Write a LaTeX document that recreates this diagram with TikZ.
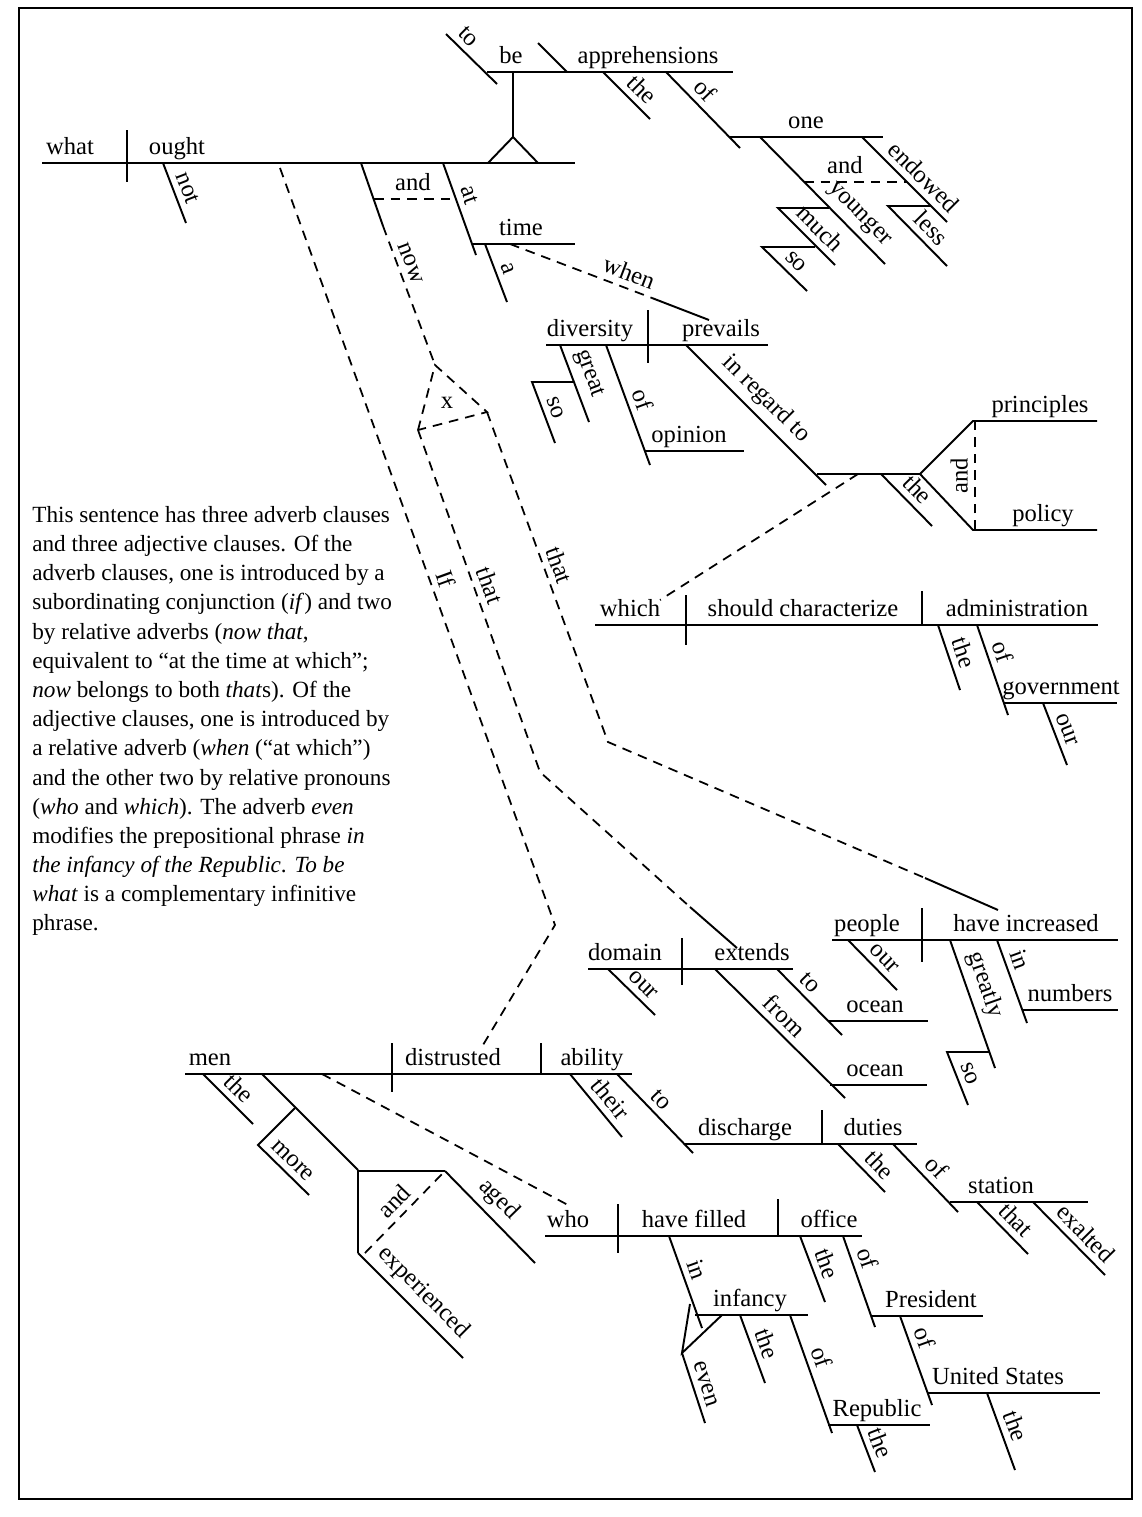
\documentclass[tikz,border=0pt]{standalone}
\usepackage{fontspec}
\setmainfont{Liberation Serif}
\usetikzlibrary{calc}

\begin{document}
\begin{tikzpicture}[
    x=0.2mm, y=-0.2mm,
    font=\fontsize{14}{16}\selectfont,
    wl/.style={line width=1.1pt},
    dl/.style={line width=1pt, dash pattern=on 5.5pt off 4pt},
    word/.style={anchor=base, inner sep=0pt},
    slw/.style={sloped, above, inner sep=3.5pt},
    note/.style={anchor=north west, inner sep=0pt, align=left,
      font=\fontsize{13.2}{16.6}\selectfont},
  ]
  \useasboundingbox (0,0) rectangle (1141,1517);
  \draw[line width=1.6pt] (19,8) rectangle (1132,1499);

  % main clause
  \draw[wl] (42,163) -- (575,163);
  \draw[wl] (127,130) -- (127,182);
  \node[word] (what)  at (70,154)  {what};
  \node[word] (ought) at (177,154) {ought};
  \draw[wl] (163,163) -- (186,223) node[slw, midway] (not) {not};

  % infinitive on its pedestal
  \draw[wl] (487,72) -- (733,72);
  \draw[wl] (446,34) -- (497,84) node[slw, pos=.25] (to1) {to};
  \draw[wl] (538,43) -- (567,72);
  \draw[wl] (513,72) -- (513,137);
  \draw[wl] (488,163) -- (513,137) -- (538,163);
  \node[word] (be)   at (511,63) {be};
  \node[word] (appr) at (648,63) {apprehensions};
  \draw[wl] (603,72) -- (650,119) node[slw, pos=.6] (the1) {the};
  \draw[wl] (666,72) -- (740,148) node[slw, pos=.38] (of1) {of};
  \draw[wl] (730,137) -- (883,137);
  \node[word] (one) at (806,128) {one};
  \draw[wl] (760,137) -- (885,264) node[slw, pos=.7] (younger) {younger};
  \draw[wl] (862,137) -- (947,222) node[slw, pos=.6] (endowed) {endowed};
  \draw[dl] (804,182) -- (907,182);
  \node[word] (and1) at (845,173) {and};
  \draw[wl] (829,208) -- (778,208) -- (835,265) node[slw, pos=.55] (much) {much};
  \draw[wl] (815,247) -- (762,247) -- (807,291) node[slw, pos=.55] (so1) {so};
  \draw[wl] (931,206) -- (888,206) -- (947,266) node[slw, pos=.55] (less) {less};

  % now ... and at time
  \coordinate (xa) at (435,365);
  \coordinate (xb) at (418,430);
  \coordinate (xc) at (487,412);
  \draw[wl] (361,163) -- (383,226);
  \draw[dl] (383,226) -- (xa) node[slw, pos=.3] (now) {now};
  \draw[dl] (374,199) -- (456,199);
  \node[word] (and2) at (413,190) {and};
  \draw[wl] (443,163) -- (476,255) node[slw, pos=.4] (at) {at};
  \draw[wl] (472,244) -- (575,244);
  \node[word] (time) at (521,235) {time};
  \draw[wl] (485,244) -- (507,302) node[slw, midway] (a) {a};
  \draw[dl] (510,244) -- (652,298) node[slw, pos=.8] (when) {when};
  \draw[wl] (652,298) -- (709,320);

  % clause connectors
  \draw[dl] (280,168) -- (555,925) node[slw, pos=.55] (if) {If} -- (483,1045);
  \draw[dl] (xb) -- (xa) -- (xc) -- cycle;
  \node (x) at (447,403) {x};
  \draw[dl] (xb) -- (540,772) node[slw, pos=.47] (that1) {that} -- (690,907);
  \draw[wl] (690,907) -- (737,948);
  \draw[dl] (xc) -- (608,742) node[slw, pos=.48] (that2) {that} -- (925,878);
  \draw[wl] (925,878) -- (998,910);

  % diversity prevails
  \draw[wl] (546,345) -- (768,345);
  \draw[wl] (648,310) -- (648,363);
  \node[word] (diversity) at (590,336) {diversity};
  \node[word] (prevails)  at (721,336) {prevails};
  \draw[wl] (560,345) -- (589,422) node[slw, pos=.45] (great) {great};
  \draw[wl] (574,382) -- (532,382) -- (555,443) node[slw, midway] (so2) {so};
  \draw[wl] (606,345) -- (650,465) node[slw, pos=.5] (of2) {of};
  \draw[wl] (645,451) -- (744,451);
  \node[word] (opinion) at (689,442) {opinion};
  \draw[wl] (686,345) -- (826,485) node[slw, pos=.48] (inregard) {in regard to};
  \draw[wl] (817,474) -- (920,474);
  \draw[wl] (1097,421) -- (973,421) -- (920,474) -- (973,530) -- (1097,530);
  \draw[dl] (975,530) -- (975,421) node[slw, midway] (and3) {and};
  \node[word] (principles) at (1040,412) {principles};
  \node[word] (policy)     at (1043,521) {policy};
  \draw[wl] (881,474) -- (932,526) node[slw, midway] (the2) {the};
  \draw[dl] (858,474) -- (660,600);

  % which should characterize
  \draw[wl] (595,625) -- (1098,625);
  \draw[wl] (686,595) -- (686,645);
  \draw[wl] (922,591) -- (922,625);
  \node[word] (which)   at (630,616)  {which};
  \node[word] (shouldc) at (803,616)  {should characterize};
  \node[word] (admin)   at (1017,616) {administration};
  \draw[wl] (938,625) -- (960,690) node[slw, midway] (the3) {the};
  \draw[wl] (977,625) -- (1008,715) node[slw, pos=.35] (of3) {of};
  \draw[wl] (1003,703) -- (1117,703);
  \node[word] (govt) at (1061,694) {government};
  \draw[wl] (1043,703) -- (1067,765) node[slw, midway] (our1) {our};

  % people have increased
  \draw[wl] (832,940) -- (1118,940);
  \draw[wl] (922,908) -- (922,962);
  \node[word] (people)  at (867,931)  {people};
  \node[word] (haveinc) at (1026,931) {have increased};
  \draw[wl] (848,940) -- (897,990) node[slw, pos=.55] (our2) {our};
  \draw[wl] (950,940) -- (995,1068) node[slw, pos=.4] (greatly) {greatly};
  \draw[wl] (989,1052) -- (947,1052) -- (968,1105) node[slw, midway] (so3) {so};
  \draw[wl] (997,940) -- (1027,1023) node[slw, pos=.3] (in1) {in};
  \draw[wl] (1022,1010) -- (1118,1010);
  \node[word] (numbers) at (1070,1001) {numbers};

  % domain extends
  \draw[wl] (588,969) -- (793,969);
  \draw[wl] (682,938) -- (682,985);
  \node[word] (domain)  at (625,960) {domain};
  \node[word] (extends) at (752,960) {extends};
  \draw[wl] (608,969) -- (655,1015) node[slw, pos=.55] (our3) {our};
  \draw[wl] (777,969) -- (842,1035) node[slw, pos=.35] (to2) {to};
  \draw[wl] (828,1021) -- (928,1021);
  \node[word] (ocean1) at (875,1012) {ocean};
  \draw[wl] (715,969) -- (845,1098) node[slw, pos=.45] (from) {from};
  \draw[wl] (830,1085) -- (927,1085);
  \node[word] (ocean2) at (875,1076) {ocean};

  % men distrusted ability
  \draw[wl] (185,1074) -- (632,1074);
  \draw[wl] (392,1043) -- (392,1092);
  \draw[wl] (541,1043) -- (541,1074);
  \node[word] (men)        at (210,1065) {men};
  \node[word] (distrusted) at (453,1065) {distrusted};
  \node[word] (ability)    at (592,1065) {ability};
  \draw[wl] (203,1074) -- (253,1124) node[slw, midway] (the4) {the};
  \draw[wl] (262,1074) -- (358,1170);
  \draw[wl] (295,1108) -- (258,1145) -- (309,1195) node[slw, midway] (more) {more};
  \draw[wl] (445,1171) -- (358,1171) -- (358,1253);
  \draw[wl] (445,1171) -- (535,1263) node[slw, pos=.45] (aged) {aged};
  \draw[wl] (358,1253) -- (463,1358) node[slw, midway] (exper) {experienced};
  \draw[dl] (365,1253) -- (445,1171) node[slw, midway] (and4) {and};
  \draw[dl] (322,1074) -- (568,1205);
  \draw[wl] (570,1074) -- (622,1137) node[slw, pos=.55] (their) {their};
  \draw[wl] (617,1074) -- (693,1153) node[slw, pos=.45] (to3) {to};
  \draw[wl] (685,1144) -- (917,1144);
  \draw[wl] (822,1110) -- (822,1144);
  \node[word] (discharge) at (745,1135) {discharge};
  \node[word] (duties)    at (873,1135) {duties};
  \draw[wl] (838,1144) -- (885,1192) node[slw, pos=.65] (the5) {the};
  \draw[wl] (893,1144) -- (958,1212) node[slw, pos=.5] (of4) {of};
  \draw[wl] (950,1202) -- (1088,1202);
  \node[word] (station) at (1001,1193) {station};
  \draw[wl] (977,1202) -- (1028,1254) node[slw, pos=.55] (that3) {that};
  \draw[wl] (1033,1202) -- (1105,1275) node[slw, pos=.58] (exalted) {exalted};

  % who have filled office
  \draw[wl] (545,1236) -- (862,1236);
  \draw[wl] (618,1204) -- (618,1253);
  \draw[wl] (778,1199) -- (778,1236);
  \node[word] (who)        at (568,1227) {who};
  \node[word] (havefilled) at (694,1227) {have filled};
  \node[word] (office)     at (829,1227) {office};
  \draw[wl] (669,1236) -- (702,1328) node[slw, pos=.42] (in2) {in};
  \draw[wl] (695,1315) -- (808,1315);
  \node[word] (infancy) at (750,1306) {infancy};
  \draw[wl] (722,1315) -- (682,1353) -- (690,1304);
  \draw[wl] (682,1353) -- (705,1423) node[slw, midway] (even) {even};
  \draw[wl] (740,1315) -- (765,1383) node[slw, midway] (the6) {the};
  \draw[wl] (790,1315) -- (832,1433) node[slw, pos=.4] (of5) {of};
  \draw[wl] (828,1425) -- (930,1425);
  \node[word] (republic) at (877,1416) {Republic};
  \draw[wl] (857,1425) -- (875,1472) node[slw, midway] (the7) {the};
  \draw[wl] (800,1236) -- (825,1302) node[slw, midway] (the8) {the};
  \draw[wl] (843,1236) -- (875,1327) node[slw, pos=.3] (of6) {of};
  \draw[wl] (872,1316) -- (983,1316);
  \node[word] (president) at (931,1307) {President};
  \draw[wl] (900,1316) -- (932,1405) node[slw, pos=.3] (of7) {of};
  \draw[wl] (928,1393) -- (1100,1393);
  \node[word] (us) at (998,1384) {United States};
  \draw[wl] (987,1393) -- (1015,1470) node[slw, midway] (the9) {the};

  % remark
  \node[note] (remark) at (32,506) {This sentence has three adverb clauses\\
    and three adjective clauses. Of the\\
    adverb clauses, one is introduced by a\\
    subordinating conjunction (\textit{if}) and two\\
    by relative adverbs (\textit{now that},\\
    equivalent to “at the time at which”;\\
    \textit{now} belongs to both \textit{that}s). Of the\\
    adjective clauses, one is introduced by\\
    a relative adverb (\textit{when} (“at which”)\\
    and the other two by relative pronouns\\
    (\textit{who} and \textit{which}). The adverb \textit{even}\\
    modifies the prepositional phrase \textit{in}\\
    \textit{the infancy of the Republic}. \textit{To be}\\
    \textit{what} is a complementary infinitive\\
    phrase.};
\end{tikzpicture}
\end{document}
